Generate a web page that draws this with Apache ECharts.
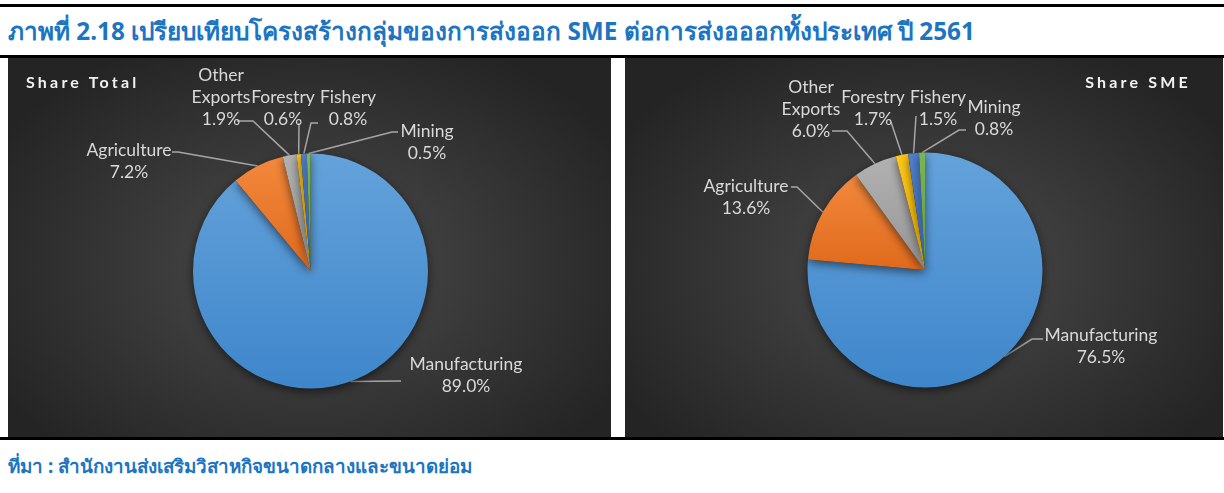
<!DOCTYPE html>
<html>
<head>
<meta charset="utf-8">
<script src="https://cdn.jsdelivr.net/npm/echarts@6/dist/echarts.min.js"></script>
<style>
  html, body { margin:0; padding:0; background:#fff; width:1224px; height:493px; overflow:hidden; }
  .hline { position:absolute; left:0; width:1224px; background:#000; }
  #title { position:absolute; left:8px; top:13px; font-family:"Noto Sans","DejaVu Sans",sans-serif; font-weight:bold; font-size:24.3px; color:#1B75C2; white-space:nowrap; line-height:36px; }
  #source { position:absolute; left:8px; top:451px; font-family:"Noto Sans","DejaVu Sans",sans-serif; font-weight:bold; font-size:18.8px; color:#1B75C2; white-space:nowrap; line-height:30px; }
  .panel { position:absolute; top:58px; height:379px; background: radial-gradient(ellipse 60% 65% at 50% 55%, #4c4c4c 0%, #383838 50%, #242424 100%); }
  .ptitle { position:absolute; top:72px; font-family:Lato,"Open Sans",sans-serif; font-weight:bold; font-size:16px; letter-spacing:3.2px; color:#F2F2F2; line-height:20px; white-space:nowrap; }
</style>
</head>
<body>
<div class="hline" style="top:4px;height:3px"></div>
<div id="title">ภาพที่ 2.18 เปรียบเทียบโครงสร้างกลุ่มของการส่งออก SME ต่อการส่งอออกทั้งประเทศ ปี 2561</div>
<div class="hline" style="top:55px;height:3px"></div>
<div class="panel" id="c1" style="left:8px;width:603px"></div>
<div class="panel" id="c2" style="left:625px;width:598px"></div>
<div class="ptitle" style="left:26px">Share Total</div>
<div class="ptitle" style="right:33px">Share SME</div>
<div class="hline" style="top:437px;height:3px"></div>
<div id="source">ที่มา : สำนักงานส่งเสริมวิสาหกิจขนาดกลางและขนาดย่อม</div>
<script>
// ---- data ----
const categories = ['Manufacturing', 'Agriculture', 'Other Exports', 'Forestry', 'Fishery', 'Mining'];
const shareTotal = [89.0, 7.2, 1.9, 0.6, 0.8, 0.5];
const shareSME   = [76.5, 13.6, 6.0, 1.7, 1.5, 0.8];

// ---- styling ----
const sliceColors = [
  ['#64A2DA', '#3E86CB'],
  ['#F3883C', '#E06A1C'],
  ['#B2B2B2', '#959595'],
  ['#FFC81A', '#F0B400'],
  ['#5180CE', '#3A64B4'],
  ['#7BB652', '#5E9A3A']
];
// label layout: [centerX, centerY, lineEndX, lineEndY, elbowX or null] in panel pixels
const layoutTotal = [
  [458, 317, 393, 323, null],
  [121, 103, 164, 94, 170],
  [213, 39, 229, 63, 245],
  [275, 50, 291, 65, null],
  [340, 50, 310, 65, 303],
  [419, 84, 390, 74, 384]
];
const layoutSME = [
  [476, 288, 418, 281, 407],
  [121, 139, 166, 129, 172],
  [186, 51, 207, 73, 222],
  [248, 50, 266, 64, null],
  [313, 50, 291, 58, null],
  [369, 60, 341, 72, 334]
];

function buildOption(values, center, layout) {
  return {
    animation: false,
    series: [{
      type: 'pie',
      radius: 117.5,
      center: center,
      startAngle: 90,
      clockwise: true,
      avoidLabelOverlap: false,
      silent: true,
      data: categories.map((name, i) => ({
        name: name,
        value: values[i],
        itemStyle: {
          color: new echarts.graphic.LinearGradient(0, 0, 0, 1, [
            { offset: 0, color: sliceColors[i][0] },
            { offset: 1, color: sliceColors[i][1] }
          ])
        }
      })),
      itemStyle: {
        shadowBlur: 10,
        shadowColor: 'rgba(0,0,0,0.55)',
        shadowOffsetY: 3
      },
      label: {
        show: true,
        position: 'outside',
        color: '#D9D9D9',
        fontFamily: 'Lato, "Open Sans", sans-serif',
        fontSize: 17.5,
        lineHeight: 22,
        align: 'center',
        formatter: p => p.name.replace(' ', '\n') + '\n' + p.value.toFixed(1) + '%'
      },
      labelLine: {
        show: true,
        length: 10,
        length2: 10,
        lineStyle: { color: '#A6A6A6', width: 1.5 }
      },
      labelLayout: function (params) {
        const L = layout[params.dataIndex];
        const anchor = params.labelLinePoints ? params.labelLinePoints[0] : [L[2], L[3]];
        const pts = [anchor];
        if (L[4] !== null) pts.push([L[4], L[3]]);
        pts.push([L[2], L[3]]);
        return {
          x: L[0], y: L[1],
          align: 'center', verticalAlign: 'middle',
          labelLinePoints: pts
        };
      }
    }]
  };
}

const chart1 = echarts.init(document.getElementById('c1'), null, { renderer: 'canvas' });
chart1.setOption(buildOption(shareTotal, [302.5, 213], layoutTotal));
const chart2 = echarts.init(document.getElementById('c2'), null, { renderer: 'canvas' });
chart2.setOption(buildOption(shareSME, [300, 212], layoutSME));
</script>
</body>
</html>
